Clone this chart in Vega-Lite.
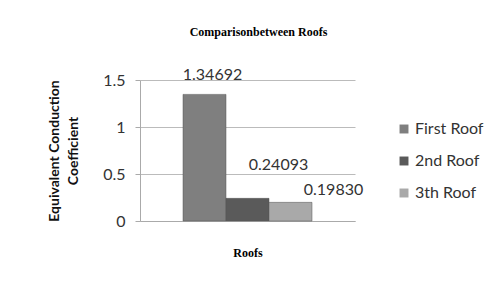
{
  "$schema": "https://vega.github.io/schema/vega-lite/v6.json",
  "autosize": "none",
  "width": 215,
  "height": 141,
  "padding": {"left": 140, "top": 80, "right": 145, "bottom": 65},
  "background": "white",
  "title": {
    "text": "Comparisonbetween Roofs",
    "font": "Liberation Serif",
    "fontSize": 12,
    "fontWeight": "bold",
    "color": "#000000",
    "anchor": "middle",
    "offset": 28,
    "dx": 11
  },
  "data": {
    "values": [
      {"roof": "First Roof", "value": 1.34692, "label": "1.34692"},
      {"roof": "2nd Roof", "value": 0.24093, "label": "0.24093"},
      {"roof": "3th Roof", "value": 0.19830, "label": "0.19830"}
    ]
  },
  "encoding": {
    "x": {
      "field": "roof",
      "type": "nominal",
      "sort": ["First Roof", "2nd Roof", "3th Roof"],
      "scale": {"paddingInner": 0, "paddingOuter": 1.3},
      "axis": {
        "title": "Roofs",
        "titleFont": "Liberation Serif",
        "titleFontSize": 12,
        "titleFontWeight": "bold",
        "titleColor": "#000000",
        "titlePadding": 26,
        "labels": false,
        "ticks": false,
        "domainColor": "#aaaaaa"
      }
    },
    "y": {
      "field": "value",
      "type": "quantitative",
      "scale": {"domain": [0, 1.5]},
      "axis": {
        "values": [0, 0.5, 1, 1.5],
        "format": "~g",
        "title": ["Equivalent Conduction", "Coefficient"],
        "titleFont": "Lato",
        "titleFontSize": 14,
        "titleFontWeight": "bold",
        "titleColor": "#111111",
        "titleLineHeight": 19,
        "titlePadding": 22,
        "labelFont": "Lato",
        "labelFontSize": 16,
        "labelColor": "#333333",
        "labelPadding": 10,
        "tickColor": "#aaaaaa",
        "tickSize": 5,
        "domainColor": "#aaaaaa",
        "gridColor": "#bbbbbb",
        "grid": true
      }
    }
  },
  "layer": [
    {
      "mark": {"type": "bar", "stroke": "#555555", "strokeWidth": 0.5},
      "encoding": {
        "color": {
          "field": "roof",
          "type": "nominal",
          "sort": ["First Roof", "2nd Roof", "3th Roof"],
          "scale": {
            "domain": ["First Roof", "2nd Roof", "3th Roof"],
            "range": ["#7f7f7f", "#5a5a5a", "#a9a9a9"]
          },
          "legend": {
            "title": null,
            "orient": "none",
            "legendX": 256,
            "legendY": 41,
            "symbolType": "square",
            "symbolSize": 80,
            "symbolStrokeWidth": 0,
            "labelFont": "Lato",
            "labelFontSize": 16,
            "labelColor": "#333333",
            "rowPadding": 16,
            "labelOffset": 3
          }
        }
      }
    },
    {
      "transform": [{"filter": "datum.roof === 'First Roof'"}],
      "mark": {"type": "text", "font": "Lato", "fontSize": 16, "color": "#333333", "baseline": "middle", "dx": 8, "dy": -19},
      "encoding": {"text": {"field": "label"}}
    },
    {
      "transform": [{"filter": "datum.roof === '2nd Roof'"}],
      "mark": {"type": "text", "font": "Lato", "fontSize": 16, "color": "#333333", "baseline": "middle", "dx": 31, "dy": -33},
      "encoding": {"text": {"field": "label"}}
    },
    {
      "transform": [{"filter": "datum.roof === '3th Roof'"}],
      "mark": {"type": "text", "font": "Lato", "fontSize": 16, "color": "#333333", "baseline": "middle", "dx": 43, "dy": -12},
      "encoding": {"text": {"field": "label"}}
    }
  ],
  "config": {"view": {"stroke": null}}
}
